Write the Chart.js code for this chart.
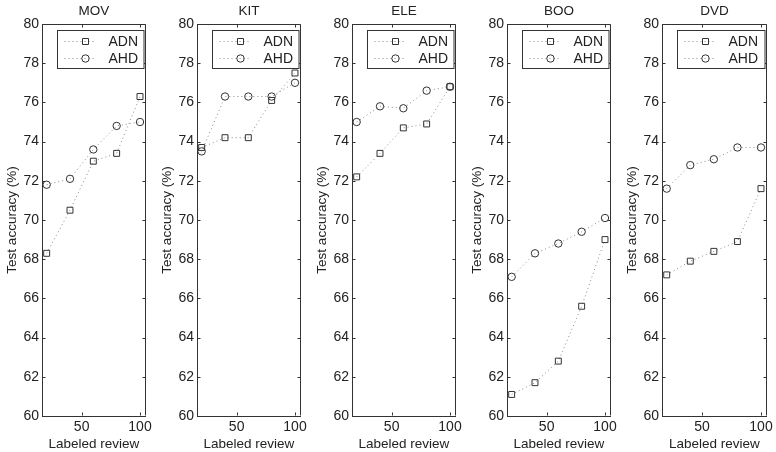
<!DOCTYPE html>
<html>
<head>
<meta charset="utf-8">
<script src="https://cdn.jsdelivr.net/npm/chart.js@4/dist/chart.umd.min.js"></script>
<style>
  body { margin: 0; background: #fff; }
  #wrap { display: flex; width: 776px; height: 452px; }
  canvas { display: block; }
</style>
</head>
<body>
<div id="wrap">
  <canvas id="c0" width="155" height="452"></canvas>
  <canvas id="c1" width="155" height="452"></canvas>
  <canvas id="c2" width="155" height="452"></canvas>
  <canvas id="c3" width="155" height="452"></canvas>
  <canvas id="c4" width="156" height="452"></canvas>
</div>
<script>
const reviews = [20, 40, 60, 80, 100];
const domains = ["MOV", "KIT", "ELE", "BOO", "DVD"];
const seriesNames = ["ADN", "AHD"];
const yTicks = [60, 62, 64, 66, 68, 70, 72, 74, 76, 78, 80];
const xTicks = [50, 100];

const movADN = [68.3, 70.5, 73.0, 73.4, 76.3];
const movAHD = [71.8, 72.1, 73.6, 74.8, 75.0];
const kitADN = [73.7, 74.2, 74.2, 76.1, 77.5];
const kitAHD = [73.5, 76.3, 76.3, 76.3, 77.0];
const eleADN = [72.2, 73.4, 74.7, 74.9, 76.8];
const eleAHD = [75.0, 75.8, 75.7, 76.6, 76.8];
const booADN = [61.1, 61.7, 62.8, 65.6, 69.0];
const booAHD = [67.1, 68.3, 68.8, 69.4, 70.1];
const dvdADN = [67.2, 67.9, 68.4, 68.9, 71.6];
const dvdAHD = [71.6, 72.8, 73.1, 73.7, 73.7];

const adnAll = [movADN, kitADN, eleADN, booADN, dvdADN];
const ahdAll = [movAHD, kitAHD, eleAHD, booAHD, dvdAHD];

const FONT = "'Liberation Sans', Arial, Helvetica, sans-serif";
const INK = "#222";
const LINE = "#8a8a8a";
const MARK = "#333";

function toPoints(vals) {
  return reviews.map((r, i) => ({x: r, y: vals[i]}));
}

function drawMarker(ctx, style, x, y) {
  ctx.beginPath();
  if (style === "rect") {
    ctx.rect(x - 3, y - 3, 6, 6);
  } else {
    ctx.arc(x, y, 3.7, 0, Math.PI * 2);
  }
  ctx.stroke();
}

// box, inward ticks, title and legend drawn like the matlab figure
const framePlugin = {
  id: "frame",
  afterDraw(chart, args, opts) {
    const ctx = chart.ctx;
    const a = chart.chartArea;
    const xs = chart.scales.x, ys = chart.scales.y;
    const L = Math.round(a.left) + 0.5, R = Math.round(a.right) - 0.5;
    const T = Math.round(a.top) + 0.5, B = Math.round(a.bottom) - 0.5;
    ctx.save();
    ctx.strokeStyle = MARK;
    ctx.lineWidth = 1;
    ctx.setLineDash([]);
    ctx.beginPath();
    ctx.moveTo(L, T); ctx.lineTo(R, T); ctx.lineTo(R, B);
    for (const v of yTicks) {
      const py = Math.round(ys.getPixelForValue(v)) + 0.5;
      ctx.moveTo(L, py); ctx.lineTo(L + 3, py);
      ctx.moveTo(R, py); ctx.lineTo(R - 3, py);
    }
    for (const v of xTicks) {
      const px = Math.round(xs.getPixelForValue(v)) + 0.5;
      ctx.moveTo(px, B); ctx.lineTo(px, B - 3);
      ctx.moveTo(px, T); ctx.lineTo(px, T + 3);
    }
    ctx.stroke();

    // title
    ctx.fillStyle = INK;
    ctx.font = "13.5px " + FONT;
    ctx.textAlign = "center";
    ctx.textBaseline = "middle";
    ctx.fillText(opts.title, (a.left + a.right) / 2, 11);

    // legend
    const bx = Math.round(a.left) + 15.5, by = Math.round(a.top) + 6.5;
    const bw = Math.round(a.right) - 2 - bx, bh = 38;
    ctx.fillStyle = "#fff";
    ctx.fillRect(bx, by, bw, bh);
    ctx.strokeRect(bx, by, bw, bh);
    chart.data.datasets.forEach((ds, i) => {
      const ry = by + 11 + i * 17;
      ctx.strokeStyle = LINE;
      ctx.setLineDash([1, 3]);
      ctx.beginPath();
      ctx.moveTo(bx + 7, ry); ctx.lineTo(bx + 39, ry);
      ctx.stroke();
      ctx.setLineDash([]);
      ctx.strokeStyle = MARK;
      drawMarker(ctx, ds.pointStyle, bx + 28, ry);
      ctx.fillStyle = INK;
      ctx.font = "14px " + FONT;
      ctx.textAlign = "left";
      ctx.fillText(ds.label, bx + 51, ry + 1);
    });
    ctx.restore();
  }
};

domains.forEach((name, k) => {
  const ctx = document.getElementById("c" + k);
  new Chart(ctx, {
    type: "line",
    data: {
      datasets: [
        {
          label: seriesNames[0],
          data: toPoints(adnAll[k]),
          pointStyle: "rect",
          pointRadius: 4.2,
        },
        {
          label: seriesNames[1],
          data: toPoints(ahdAll[k]),
          pointStyle: "circle",
          pointRadius: 3.7,
        },
      ].map(d => Object.assign(d, {
        borderColor: LINE,
        borderWidth: 1,
        borderDash: [1, 3],
        pointBorderColor: MARK,
        pointBackgroundColor: "rgba(0,0,0,0)",
        pointBorderWidth: 1,
        tension: 0,
        fill: false,
      })),
    },
    options: {
      responsive: false,
      animation: false,
      events: [],
      layout: { padding: { top: 24, right: 6, left: 0, bottom: 0 } },
      plugins: {
        legend: { display: false },
        tooltip: { enabled: false },
        frame: { title: name },
      },
      scales: {
        x: {
          type: "linear",
          min: 16,
          max: 105,
          afterBuildTicks: s => { s.ticks = xTicks.map(v => ({value: v})); },
          afterFit: s => { s.height = 36; },
          grid: { display: false, drawTicks: false },
          border: { display: true, color: MARK },
          ticks: { color: INK, font: { family: FONT, size: 14 }, padding: 3, maxRotation: 0 },
          title: { display: true, text: "Labeled review", color: INK, font: { family: FONT, size: 13.5 }, padding: 0 },
        },
        y: {
          min: 60,
          max: 80,
          afterBuildTicks: s => { s.ticks = yTicks.map(v => ({value: v})); },
          afterFit: s => { s.width = 42; },
          grid: { display: false, drawTicks: false },
          border: { display: true, color: MARK },
          ticks: { color: INK, font: { family: FONT, size: 14 }, padding: 3 },
          title: { display: true, text: "Test accuracy (%)", color: INK, font: { family: FONT, size: 13.5 }, padding: { top: 4 } },
        },
      },
    },
    plugins: [framePlugin],
  });
});
</script>
</body>
</html>
